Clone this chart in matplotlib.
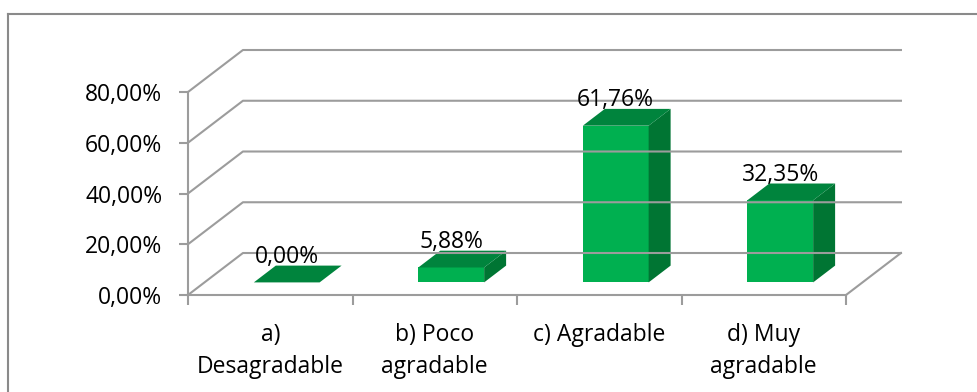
import matplotlib.pyplot as plt
from matplotlib.patches import Polygon
from matplotlib.lines import Line2D
from matplotlib.ticker import FixedLocator, FuncFormatter

categories = ['a)\nDesagradable', 'b) Poco\nagradable', 'c) Agradable', 'd) Muy\nagradable']
values = [0.00, 5.88, 61.76, 32.35]
y_ticks = [0, 20, 40, 60, 80]

plt.rcParams['font.family'] = ['Open Sans', 'DejaVu Sans']

GRID = '#9C9C9C'
FRONT = '#00B050'
TOP = '#00843D'
SIDE = '#007533'
FS = 16.5

fig = plt.figure(figsize=(9.77, 3.92), dpi=100)
ax = fig.add_axes([188 / 977, 97 / 392, 658 / 977, 203 / 392])
ax.set_xlim(0, len(categories))
ax.set_ylim(0, 80)

# depth of the box (back wall offset) in data units
DX, DY = 0.334, 16.55
# bar footprint: width along x, front/back depth fractions
bw, d0, d1 = 0.4, 0.3, 0.7

n = len(categories)

# side wall, back wall and floor lines
for t in y_ticks:
    ax.add_line(Line2D([0, DX, n + DX], [t, t + DY, t + DY], color=GRID, lw=1.5, clip_on=False))
ax.add_line(Line2D([n, n + DX], [0, DY], color=GRID, lw=1.5, clip_on=False))

# 3D columns
for i, v in enumerate(values):
    xl = i + 0.5 - bw / 2
    xr = i + 0.5 + bw / 2
    front = [(xl + d0 * DX, d0 * DY), (xr + d0 * DX, d0 * DY),
             (xr + d0 * DX, d0 * DY + v), (xl + d0 * DX, d0 * DY + v)]
    top = [(xl + d0 * DX, d0 * DY + v), (xr + d0 * DX, d0 * DY + v),
           (xr + d1 * DX, d1 * DY + v), (xl + d1 * DX, d1 * DY + v)]
    side = [(xr + d0 * DX, d0 * DY), (xr + d1 * DX, d1 * DY),
            (xr + d1 * DX, d1 * DY + v), (xr + d0 * DX, d0 * DY + v)]
    for pts, col in ((front, FRONT), (side, SIDE), (top, TOP)):
        ax.add_patch(Polygon(pts, closed=True, facecolor=col, edgecolor='none', clip_on=False))
    ax.annotate(f'{v:.2f}%'.replace('.', ','), (i + 0.5 + d0 * DX, d1 * DY + v),
                xytext=(0, 2), textcoords='offset points', ha='center', va='baseline',
                fontsize=FS, color='black', annotation_clip=False)

for side_name in ('top', 'right'):
    ax.spines[side_name].set_visible(False)
for side_name in ('left', 'bottom'):
    ax.spines[side_name].set_color(GRID)
    ax.spines[side_name].set_linewidth(1.5)

ax.set_yticks(y_ticks)
ax.yaxis.set_major_formatter(FuncFormatter(lambda y, _: f'{y:.2f}%'.replace('.', ',')))
ax.tick_params(axis='y', length=6.5, width=1.5, color=GRID, pad=12, labelsize=FS)

ax.xaxis.set_major_locator(FixedLocator(range(n + 1)))
ax.xaxis.set_major_formatter(FuncFormatter(lambda x, _: ''))
ax.xaxis.set_minor_locator(FixedLocator([i + 0.5 for i in range(n)]))
ax.set_xticklabels(categories, minor=True, fontsize=FS, linespacing=1.45)
ax.tick_params(axis='x', which='major', length=7, width=1.5, color=GRID)
ax.tick_params(axis='x', which='minor', length=0, pad=20)

# chart area border
fig.add_artist(Line2D([8 / 977, 1.0], [1 - 14 / 392, 1 - 14 / 392], color='#8A8A8A', lw=1.5))
fig.add_artist(Line2D([8 / 977, 8 / 977], [0.0, 1 - 14 / 392], color='#8A8A8A', lw=1.5))

fig.savefig('out.png', dpi=100)
